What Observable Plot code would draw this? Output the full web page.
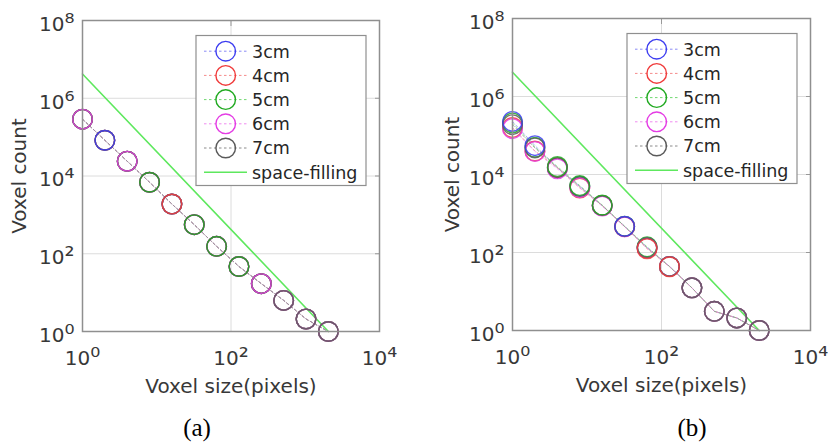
<!DOCTYPE html>
<html><head><meta charset="utf-8">
<script src="https://cdn.jsdelivr.net/npm/d3@7"></script>
<script src="https://cdn.jsdelivr.net/npm/@observablehq/plot@0.6"></script>
<style>
body{margin:0;background:#fff;width:828px;height:448px;position:relative;overflow:hidden;font-family:"DejaVu Sans";}
#a,#b{position:absolute;top:0;width:414px;height:400px;}
#a{left:0} #b{left:414px}
.cap{position:absolute;top:413px;font-family:"Liberation Serif";font-size:25px;line-height:30px;transform:translateX(-50%);color:#000;white-space:nowrap}
</style></head><body>
<div id="a"></div><div id="b"></div>
<div class="cap" style="left:197px">(a)</div>
<div class="cap" style="left:692px">(b)</div>
<script>
// ---- data ----
const sizes = [1, 2, 4, 8, 16, 32, 64, 128, 256, 512, 1024, 2048];
const series = ["3cm", "4cm", "5cm", "6cm", "7cm"];

// panel (a): all five series lie on top of each other
const a3cm = [2.9e5, 8.3e4, 2.4e4, 6.9e3, 1.9e3, 560, 155, 47, 17, 6.3, 2.1, 1];
const a4cm = [2.9e5, 8.3e4, 2.4e4, 6.9e3, 1.9e3, 560, 155, 47, 17, 6.3, 2.1, 1];
const a5cm = [2.9e5, 8.3e4, 2.4e4, 6.9e3, 1.9e3, 560, 155, 47, 17, 6.3, 2.1, 1];
const a6cm = [2.9e5, 8.3e4, 2.4e4, 6.9e3, 1.9e3, 560, 155, 47, 17, 6.3, 2.1, 1];
const a7cm = [2.9e5, 8.3e4, 2.4e4, 6.9e3, 1.9e3, 560, 155, 47, 17, 6.3, 2.1, 1];
// series whose circle is visible on top at each size
const topA = ["6cm", "3cm", "6cm", "5cm", "4cm", "5cm", "5cm", "5cm", "6cm", "7cm", "7cm", "7cm"];

// panel (b)
const b3cm = [2.3e5, 5.5e4, 1.5e4, 5.0e3, 1.6e3, 470, 135, 44, 12.4, 3.1, 2.1, 1];
const b4cm = [1.6e5, 4.0e4, 1.5e4, 4.5e3, 1.6e3, 460, 125, 43, 12.4, 3.1, 2.1, 1];
const b5cm = [2.1e5, 5.0e4, 1.6e4, 5.2e3, 1.65e3, 470, 140, 44, 12.4, 3.1, 2.1, 1];
const b6cm = [1.5e5, 3.9e4, 1.4e4, 4.6e3, 1.55e3, 455, 130, 44, 12.4, 3.1, 2.1, 1];
const b7cm = [1.9e5, 4.8e4, 1.5e4, 4.9e3, 1.6e3, 465, 132, 44, 12.4, 3.1, 2.1, 1];
const topB = ["3cm", "3cm", "5cm", "5cm", "5cm", "3cm", "4cm", "4cm", "7cm", "7cm", "7cm", "7cm"];

// space-filling reference line
const sfSizes = [1, 2048];
const sfCounts = [4.2e6, 1];

const xTicks = [1, 100, 10000];
const yTicks = [1, 1e2, 1e4, 1e6, 1e8];
const xLabel = "Voxel size(pixels)";
const yLabel = "Voxel count";
const sfLabel = "space-filling";

// ---- styles ----
const colors = ["#3c3cf0", "#f03c3c", "#22aa22", "#e43ce4", "#5a5a5a"];
const lineColors = ["#8a8af5", "#f58a8a", "#70d870", "#f08af0", "#8a8a8a"];
const sfColor = "#5ee85e";
const sup = {"0":"\u2070","1":"\u00b9","2":"\u00b2","3":"\u00b3","4":"\u2074","5":"\u2075","6":"\u2076","7":"\u2077","8":"\u2078","9":"\u2079"};
const fmt = d => "10" + String(Math.round(Math.log10(d))).split("").map(c => sup[c]).join("");

function panel(el, counts, top, m) {
  const rows = [];
  series.forEach((s, i) => counts[i].forEach((c, k) =>
    rows.push({series: s, size: sizes[k], count: c, top: top[k] === s ? 1 : 0})));
  const sf = sfSizes.map((s, i) => ({size: s, count: sfCounts[i]}));
  const W = 414, H = 400;
  const plot = Plot.plot({
    width: W, height: H,
    marginLeft: m.left, marginRight: m.right, marginTop: m.top, marginBottom: m.bottom,
    style: {fontFamily: "DejaVu Sans", fontSize: "21.5px", color: "#383838", background: "transparent", overflow: "visible"},
    x: {type: "log", domain: [1, 1e4]},
    y: {type: "log", domain: [1, 1e8]},
    color: {domain: series, range: colors},
    marks: [
      Plot.gridX(xTicks.slice(1, -1), {stroke: "#dcdcdc", strokeOpacity: 1, strokeWidth: 1}),
      Plot.gridY(yTicks.slice(1, -1), {stroke: "#dcdcdc", strokeOpacity: 1, strokeWidth: 1}),
      Plot.axisX(xTicks, {tickSize: 0, tickPadding: 19, tickFormat: fmt, fontSize: 20, label: xLabel, labelAnchor: "center", labelOffset: 61, labelArrow: "none"}),
      Plot.axisY(yTicks, {tickSize: 0, tickPadding: 8, dy: 4, tickFormat: fmt, fontSize: 20, label: yLabel, labelAnchor: "center", labelOffset: m.lab, labelArrow: "none"}),
      Plot.axisY(yTicks, {anchor: "right", tickSize: -5, tickFormat: () => "", label: null, stroke: "#999"}),
      Plot.axisX(xTicks, {anchor: "top", tickSize: -5, tickFormat: () => "", label: null, stroke: "#999"}),
      Plot.line(sf, {x: "size", y: "count", stroke: sfColor, strokeWidth: 1.6}),
      Plot.line(rows, {x: "size", y: "count", z: "series", stroke: d => lineColors[series.indexOf(d.series)], strokeDasharray: "2.5,2.5", strokeOpacity: 0.7, strokeWidth: 1}),
      Plot.dot(rows, {x: "size", y: "count", stroke: "series", r: 9.8, strokeWidth: 1.4, strokeOpacity: 0.85, sort: "top"}),
      Plot.frame({stroke: "#8f8f8f", strokeWidth: 1.5})
    ]
  });
  const svg = d3.select(plot);
  // enlarge the superscript exponent of tick labels (text stays "10ⁿ")
  svg.selectAll("text").each(function() {
    const t = this.textContent;
    if (/^10[\u2070\u00b9\u00b2\u00b3\u2074-\u2079]+$/.test(t)) {
      const s = d3.select(this);
      s.text("");
      s.append("tspan").text("10");
      s.append("tspan").attr("font-size", 25).text(t.slice(2));
    }
  });
  // legend inside the axes, top-right
  const right = W - m.right - 13, topY = m.top + 15.5, lw = 170, lh = 150, rowH = 24.2;
  const left = right - lw;
  const g = svg.append("g").attr("font-family", "DejaVu Sans").attr("font-size", 17.5).attr("fill", "#262626");
  g.append("rect").attr("x", left).attr("y", topY).attr("width", lw).attr("height", lh)
    .attr("fill", "#fff").attr("stroke", "#8f8f8f").attr("stroke-width", 1.2);
  const entries = series.map((s, i) => ({label: s, color: colors[i], lc: lineColors[i], dot: true}))
    .concat([{label: sfLabel, color: sfColor, lc: sfColor, dot: false}]);
  entries.forEach((e, i) => {
    const cy = topY + 15.7 + i * rowH;
    g.append("line").attr("x1", left + 8).attr("x2", left + 51).attr("y1", cy).attr("y2", cy)
      .attr("stroke", e.lc).attr("stroke-width", e.dot ? 1 : 1.6).attr("stroke-dasharray", e.dot ? "2.5,2.5" : null);
    if (e.dot) g.append("circle").attr("cx", left + 29.7).attr("cy", cy).attr("r", 9.8)
      .attr("fill", "none").attr("stroke", e.color).attr("stroke-width", 1.4);
    g.append("text").attr("x", left + 56).attr("y", cy).attr("dy", "0.36em").attr("text-anchor", "start").text(e.label);
  });
  document.getElementById(el).appendChild(plot);
}

panel("a", [a3cm, a4cm, a5cm, a6cm, a7cm], topA, {left: 82, right: 35, top: 20, bottom: 69, lab: 71});
panel("b", [b3cm, b4cm, b5cm, b6cm, b7cm], topB, {left: 98, right: 18, top: 18, bottom: 70, lab: 68});
</script>
</body></html>
